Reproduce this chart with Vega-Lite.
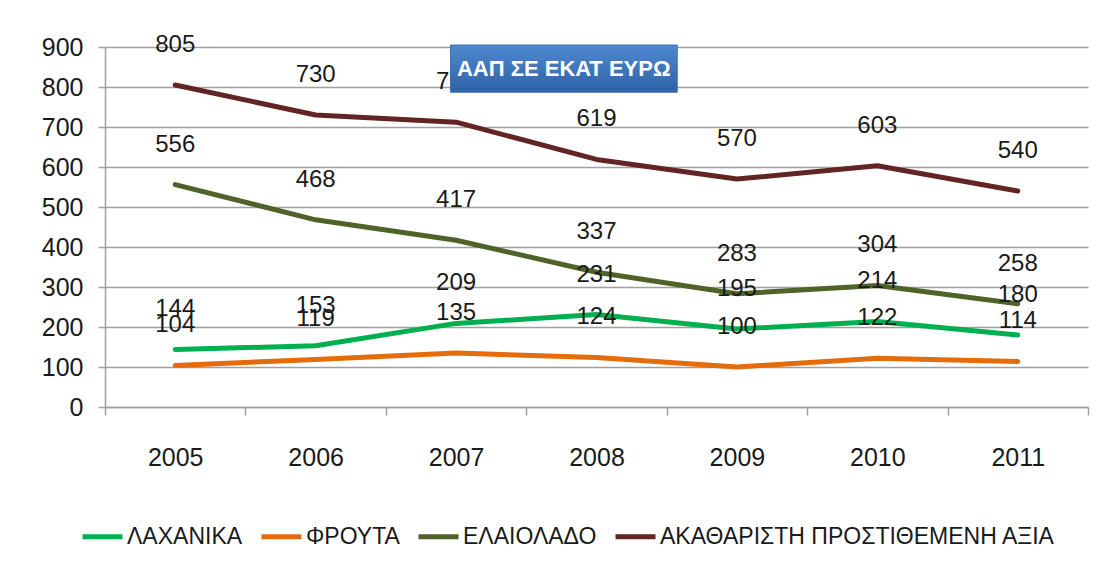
{
  "$schema": "https://vega.github.io/schema/vega-lite/v6.json",
  "width": 983,
  "height": 360,
  "autosize": {"type": "none"},
  "padding": {"left": 105, "top": 47, "right": 23, "bottom": 170},
  "background": "white",
  "config": {
    "view": {"stroke": null},
    "font": "Liberation Sans",
    "axisY": {
      "labelOverlap": false,
      "labelFlush": false,
      "labelFontSize": 25,
      "labelColor": "#1a1a1a",
      "labelPadding": 15,
      "tickSize": 7,
      "tickColor": "#a0a0a0",
      "tickWidth": 1.5,
      "domainColor": "#a0a0a0",
      "domainWidth": 1.5,
      "grid": true,
      "gridColor": "#a0a0a0",
      "gridWidth": 1.5
    },
    "axisX": {
      "labelAngle": 0,
      "labelFontSize": 25,
      "labelColor": "#1a1a1a",
      "labelPadding": 30,
      "tickBand": "extent",
      "tickSize": 8,
      "tickColor": "#a0a0a0",
      "tickWidth": 1.5,
      "domainColor": "#a0a0a0",
      "domainWidth": 1.5,
      "grid": false
    }
  },
  "datasets": {
    "main": [
      {"year": "2005", "series": "ΛΑΧΑΝΙΚΑ", "value": 144},
      {"year": "2006", "series": "ΛΑΧΑΝΙΚΑ", "value": 153},
      {"year": "2007", "series": "ΛΑΧΑΝΙΚΑ", "value": 209},
      {"year": "2008", "series": "ΛΑΧΑΝΙΚΑ", "value": 231},
      {"year": "2009", "series": "ΛΑΧΑΝΙΚΑ", "value": 195},
      {"year": "2010", "series": "ΛΑΧΑΝΙΚΑ", "value": 214},
      {"year": "2011", "series": "ΛΑΧΑΝΙΚΑ", "value": 180},
      {"year": "2005", "series": "ΦΡΟΥΤΑ", "value": 104},
      {"year": "2006", "series": "ΦΡΟΥΤΑ", "value": 119},
      {"year": "2007", "series": "ΦΡΟΥΤΑ", "value": 135},
      {"year": "2008", "series": "ΦΡΟΥΤΑ", "value": 124},
      {"year": "2009", "series": "ΦΡΟΥΤΑ", "value": 100},
      {"year": "2010", "series": "ΦΡΟΥΤΑ", "value": 122},
      {"year": "2011", "series": "ΦΡΟΥΤΑ", "value": 114},
      {"year": "2005", "series": "ΕΛΑΙΟΛΑΔΟ", "value": 556},
      {"year": "2006", "series": "ΕΛΑΙΟΛΑΔΟ", "value": 468},
      {"year": "2007", "series": "ΕΛΑΙΟΛΑΔΟ", "value": 417},
      {"year": "2008", "series": "ΕΛΑΙΟΛΑΔΟ", "value": 337},
      {"year": "2009", "series": "ΕΛΑΙΟΛΑΔΟ", "value": 283},
      {"year": "2010", "series": "ΕΛΑΙΟΛΑΔΟ", "value": 304},
      {"year": "2011", "series": "ΕΛΑΙΟΛΑΔΟ", "value": 258},
      {"year": "2005", "series": "ΑΚΑΘΑΡΙΣΤΗ ΠΡΟΣΤΙΘΕΜΕΝΗ ΑΞΙΑ", "value": 805},
      {"year": "2006", "series": "ΑΚΑΘΑΡΙΣΤΗ ΠΡΟΣΤΙΘΕΜΕΝΗ ΑΞΙΑ", "value": 730},
      {"year": "2007", "series": "ΑΚΑΘΑΡΙΣΤΗ ΠΡΟΣΤΙΘΕΜΕΝΗ ΑΞΙΑ", "value": 712},
      {"year": "2008", "series": "ΑΚΑΘΑΡΙΣΤΗ ΠΡΟΣΤΙΘΕΜΕΝΗ ΑΞΙΑ", "value": 619},
      {"year": "2009", "series": "ΑΚΑΘΑΡΙΣΤΗ ΠΡΟΣΤΙΘΕΜΕΝΗ ΑΞΙΑ", "value": 570},
      {"year": "2010", "series": "ΑΚΑΘΑΡΙΣΤΗ ΠΡΟΣΤΙΘΕΜΕΝΗ ΑΞΙΑ", "value": 603},
      {"year": "2011", "series": "ΑΚΑΘΑΡΙΣΤΗ ΠΡΟΣΤΙΘΕΜΕΝΗ ΑΞΙΑ", "value": 540}
    ],
    "title": [{"label": "ΑΑΠ ΣΕ ΕΚΑΤ ΕΥΡΩ"}]
  },
  "layer": [
    {
      "data": {"name": "main"},
      "mark": {"type": "line", "strokeWidth": 5, "strokeCap": "round", "strokeJoin": "round"},
      "encoding": {
        "x": {
          "field": "year",
          "type": "ordinal",
          "scale": {"type": "band", "paddingInner": 0, "paddingOuter": 0},
          "axis": {"title": null}
        },
        "y": {
          "field": "value",
          "type": "quantitative",
          "scale": {"domain": [0, 900], "nice": false},
          "axis": {"title": null, "values": [0, 100, 200, 300, 400, 500, 600, 700, 800, 900], "labelOverlap": false}
        },
        "color": {
          "field": "series",
          "type": "nominal",
          "scale": {
            "domain": ["ΛΑΧΑΝΙΚΑ", "ΦΡΟΥΤΑ", "ΕΛΑΙΟΛΑΔΟ", "ΑΚΑΘΑΡΙΣΤΗ ΠΡΟΣΤΙΘΕΜΕΝΗ ΑΞΙΑ"],
            "range": ["#00b050", "#e46c0a", "#4f6228", "#632523"]
          },
          "legend": {
            "title": null,
            "orient": "none",
            "legendX": -25,
            "legendY": 467,
            "direction": "horizontal",
            "symbolType": "stroke",
            "symbolSize": 1600,
            "symbolStrokeWidth": 5,
            "labelFontSize": 23,
            "labelColor": "#1a1a1a",
            "labelOffset": 2,
            "columnPadding": 8,
            "labelLimit": 600
          }
        }
      }
    },
    {
      "data": {"name": "main"},
      "mark": {"type": "text", "dy": -40, "fontSize": 24, "color": "#1a1a1a", "baseline": "middle"},
      "encoding": {
        "x": {"field": "year", "type": "ordinal", "axis": {"title": null}},
        "y": {"field": "value", "type": "quantitative", "axis": {"title": null, "values": [0, 100, 200, 300, 400, 500, 600, 700, 800, 900], "labelOverlap": false}},
        "text": {"field": "value", "type": "quantitative"}
      }
    },
    {
      "data": {"name": "title"},
      "mark": {"type": "rect", "color": "#8c8c8c", "opacity": 0.35, "xOffset": 3, "yOffset": 3},
      "encoding": {
        "x": {"datum": "2007", "type": "ordinal", "bandPosition": 0.46, "axis": {"title": null}},
        "x2": {"datum": "2009", "bandPosition": 0.075},
        "y": {"datum": 905, "type": "quantitative", "axis": {"title": null, "values": [0, 100, 200, 300, 400, 500, 600, 700, 800, 900], "labelOverlap": false}},
        "y2": {"datum": 787}
      }
    },
    {
      "data": {"name": "title"},
      "mark": {
        "type": "rect",
        "fill": {
          "gradient": "linear",
          "x1": 0, "y1": 0, "x2": 0, "y2": 1,
          "stops": [{"offset": 0, "color": "#4f88cf"}, {"offset": 1, "color": "#2f62a6"}]
        },
        "stroke": "#3a70b8",
        "strokeWidth": 1
      },
      "encoding": {
        "x": {"datum": "2007", "type": "ordinal", "bandPosition": 0.46, "axis": {"title": null}},
        "x2": {"datum": "2009", "bandPosition": 0.075},
        "y": {"datum": 905, "type": "quantitative", "axis": {"title": null, "values": [0, 100, 200, 300, 400, 500, 600, 700, 800, 900], "labelOverlap": false}},
        "y2": {"datum": 787}
      }
    },
    {
      "data": {"name": "title"},
      "mark": {"type": "text", "fontSize": 22, "fontWeight": "bold", "color": "white", "baseline": "middle", "align": "center"},
      "encoding": {
        "x": {"datum": "2008", "type": "ordinal", "bandPosition": 0.267, "axis": {"title": null}},
        "y": {"datum": 846, "type": "quantitative", "axis": {"title": null, "values": [0, 100, 200, 300, 400, 500, 600, 700, 800, 900], "labelOverlap": false}},
        "text": {"field": "label"}
      }
    }
  ]
}
